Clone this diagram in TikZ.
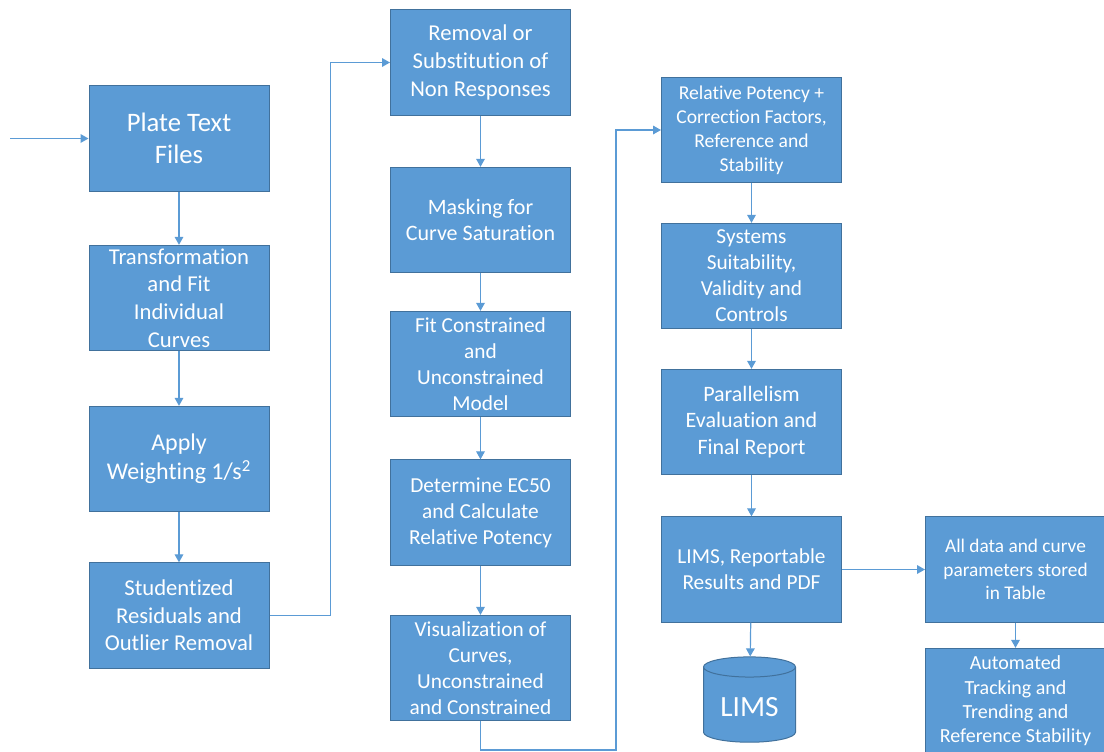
\documentclass[tikz,border=0pt]{standalone}
\usepackage{fontspec}
\setmainfont{Carlito}[Ligatures=NoCommon]
\usetikzlibrary{shapes.geometric,arrows.meta}
\definecolor{boxblue}{HTML}{5B9BD5}
\definecolor{boxedge}{HTML}{41719C}
\begin{document}
\begin{tikzpicture}[x=0.75pt,y=-0.75pt,
        proc/.style={rectangle, fill=boxblue, draw=boxedge, line width=0.75pt, text=white,
            align=center, minimum width=135pt, minimum height=79pt, inner sep=1pt},
        fsz/.style={font=\fontsize{#1}{\fpeval{1.22*#1}}\selectfont},
        dbase/.style={cylinder, shape border rotate=90, aspect=0.3, fill=boxblue, draw=boxedge,
            line width=0.75pt, text=white, minimum width=69pt, minimum height=64pt},
        flow/.style={draw=boxblue, line width=0.9pt, -{Triangle[length=6pt,width=6.5pt]}}]
        \useasboundingbox (0,0) rectangle (1104,751);
        % first column
        \node[proc, fsz=20] (plate) at (179,138.5) {Plate Text\\Files};
        \node[proc, fsz=17] (transf) at (179,298) {Transformation\\and Fit\\Individual\\Curves};
        \node[proc, fsz=18] (weight) at (179,459) {Apply\\Weighting 1/s\textsuperscript{2}};
        \node[proc, fsz=17] (stud) at (179,615.5) {Studentized\\Residuals and\\Outlier Removal};
        % second column
        \node[proc, fsz=17] (removal) at (480.5,62.5) {Removal or\\Substitution of\\Non Responses};
        \node[proc, fsz=16.5] (mask) at (480.5,220) {Masking for\\Curve Saturation};
        \node[proc, fsz=16] (fitmod) at (480.5,364) {Fit Constrained\\and\\Unconstrained\\Model};
        \node[proc, fsz=16] (ecfifty) at (480.5,512.5) {Determine EC50\\and Calculate\\Relative Potency};
        \node[proc, fsz=16] (visual) at (480.5,668) {Visualization of\\Curves,\\Unconstrained\\and Constrained};
        % third column
        \node[proc, fsz=14.7] (relpot) at (751.5,130) {Relative Potency +\\Correction Factors,\\Reference and\\Stability};
        \node[proc, fsz=16] (suit) at (751.5,276) {Systems\\Suitability,\\Validity and\\Controls};
        \node[proc, fsz=16.5] (para) at (751.5,422) {Parallelism\\Evaluation and\\Final Report};
        \node[proc, fsz=16] (report) at (751.5,569.5) {LIMS, Reportable\\Results and PDF};
        \node[dbase, fsz=22] (lims) at (749.5,707) {LIMS};
        % fourth column
        \node[proc, fsz=14.5] (store) at (1015.5,569.5) {All data and curve\\parameters stored\\in Table};
        \node[proc, fsz=15] (track) at (1015.5,701) {Automated\\Tracking and\\Trending and\\Reference Stability};
        % connectors
        \coordinate (start) at (10,138.5);
        \coordinate (bend) at (616,750);
        \draw[flow] (start) -- (plate);
        \draw[flow] (plate) -- (transf);
        \draw[flow] (transf) -- (weight);
        \draw[flow] (weight) -- (stud);
        \draw[flow] (stud.east) -- ++(61,0) |- (removal.west);
        \draw[flow] (removal) -- (mask);
        \draw[flow] (mask) -- (fitmod);
        \draw[flow] (fitmod) -- (ecfifty);
        \draw[flow] (ecfifty) -- (visual);
        \draw[flow] (visual.south) |- (bend) |- (relpot.west);
        \draw[flow] (relpot) -- (suit);
        \draw[flow] (suit) -- (para);
        \draw[flow] (para) -- (report);
        \draw[flow] (report) -- (lims);
        \draw[flow] (report) -- (store);
        \draw[flow] (store) -- (track);
\end{tikzpicture}
\end{document}
